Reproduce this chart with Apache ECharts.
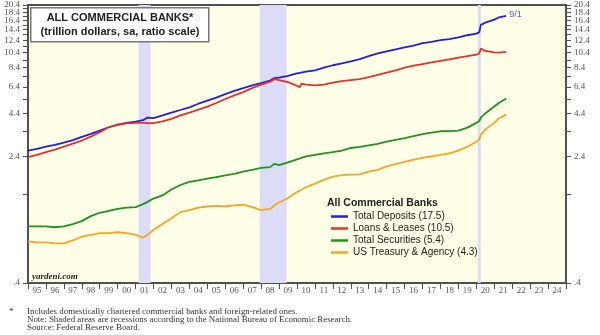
<!DOCTYPE html>
<html><head><meta charset="utf-8">
<script src="https://cdn.jsdelivr.net/npm/echarts@6/dist/echarts.min.js"></script>
<style>html,body{margin:0;padding:0;background:#fff}#c{width:600px;height:335px}</style>
</head><body><div id="c"></div>
<script>
// ---- data (trillion dollars) ----
const dates = ['1995-01','1995-07','1996-01','1996-07','1997-01','1997-07','1998-01','1998-07','1999-01','1999-07',
'2000-01','2000-07','2001-01','2001-06','2001-09','2002-01','2002-07','2003-01','2003-07','2004-01','2004-07',
'2005-01','2005-07','2006-01','2006-07','2007-01','2007-07','2008-01','2008-07','2008-10','2009-01','2009-07',
'2010-01','2010-03','2010-04','2010-07','2011-01','2011-07','2012-01','2012-07','2013-01','2013-07','2014-01','2014-07',
'2015-01','2015-07','2016-01','2016-07','2017-01','2017-07','2018-01','2018-07','2019-01','2019-07',
'2020-01','2020-03','2020-04','2020-07','2021-01','2021-04','2021-09'];
const totalDeposits = [2.60,2.67,2.75,2.82,2.91,3.02,3.16,3.30,3.45,3.62,
3.76,3.85,3.92,4.00,4.15,4.12,4.28,4.45,4.62,4.80,5.05,
5.28,5.50,5.78,6.05,6.30,6.55,6.75,7.00,7.25,7.30,7.48,
7.75,7.82,7.85,7.95,8.10,8.40,8.70,8.92,9.20,9.50,9.90,10.30,
10.60,10.90,11.20,11.50,11.90,12.10,12.40,12.60,12.90,13.30,
13.60,13.90,15.40,15.90,16.60,17.10,17.50];
const loansLeases = [2.37,2.45,2.55,2.64,2.75,2.87,3.00,3.17,3.38,3.62,
3.75,3.82,3.85,3.85,3.84,3.84,3.93,4.08,4.28,4.45,4.65,
4.85,5.10,5.40,5.68,5.95,6.30,6.62,6.90,7.15,7.05,6.85,
6.50,6.38,6.72,6.62,6.55,6.62,6.80,6.95,7.05,7.15,7.35,7.60,
7.85,8.10,8.40,8.65,8.85,9.05,9.25,9.45,9.70,9.90,
10.10,10.30,11.00,10.65,10.45,10.40,10.50];
const totalSecurities = [0.89,0.89,0.89,0.88,0.89,0.92,0.96,1.03,1.08,1.11,
1.14,1.16,1.17,1.22,1.26,1.32,1.38,1.50,1.60,1.67,1.71,
1.75,1.79,1.83,1.87,1.93,1.98,2.04,2.06,2.16,2.12,2.20,
2.30,2.33,2.36,2.40,2.45,2.50,2.55,2.60,2.70,2.74,2.80,2.86,
2.95,3.03,3.10,3.19,3.28,3.36,3.42,3.43,3.45,3.60,
3.85,3.95,4.15,4.40,4.85,5.10,5.43];
const treasuryAgency = [0.72,0.71,0.71,0.70,0.70,0.73,0.77,0.79,0.81,0.81,
0.82,0.81,0.79,0.76,0.79,0.85,0.92,1.00,1.09,1.12,1.16,
1.18,1.19,1.18,1.20,1.21,1.17,1.12,1.14,1.20,1.25,1.33,
1.45,1.48,1.50,1.55,1.63,1.72,1.80,1.84,1.85,1.86,1.93,1.98,
2.08,2.15,2.22,2.29,2.35,2.40,2.45,2.50,2.60,2.75,
2.95,3.05,3.25,3.50,3.85,4.10,4.33];
const seriesNames = ['Total Deposits (17.5)','Loans & Leases (10.5)','Total Securities (5.4)','US Treasury & Agency (4.3)'];
const recessions = [['2001-03','2001-11'],['2007-12','2009-06'],['2020-02','2020-04']];
const yearLabels = ['95','96','97','98','99','00','01','02','03','04','05','06','07','08','09','10','11','12','13','14','15','16','17','18','19','20','21','22','23','24'];
const yearTicks = [1995,1996,1997,1998,1999,2000,2001,2002,2003,2004,2005,2006,2007,2008,2009,2010,2011,2012,2013,2014,2015,2016,2017,2018,2019,2020,2021,2022,2023,2024,2025];
// y tick labels, split in groups so that crowded top labels are not dropped
const yLabelGroups = [[0.4,2.4,4.4,6.4,8.4,10.4,12.4,14.4,16.4],[18.4],[20.4]];
const yTickValues = [0.4,1.4,2.4,3.4,4.4,5.4,6.4,7.4,8.4,9.4,10.4,11.4,12.4,13.4,14.4,15.4,16.4,17.4,18.4,19.4,20.4];

// ---- helpers ----
function decYear(s){const p=s.split('-');return +p[0]+(+p[1]-1)/12;}
function pts(vals){return vals.map((v,i)=>[decYear(dates[i]),Math.log(v)]);}
const colors=['#1f1fe0','#e8302a','#1f931f','#f5a524'];
const serif="'Liberation Serif','Times New Roman',serif";
const sans="'Liberation Sans',Arial,sans-serif";
const yMin=Math.log(0.4)-1e-9, yMax=Math.log(20.4)+1e-9;
function yFmt(v){const x=Math.round(Math.exp(v)*10)/10;return x<1?'.'+Math.round(x*10):x.toFixed(1);}
function yAx(pos,labels,main){return {type:'value',position:pos,min:yMin,max:yMax,
  axisLine:{show:main,lineStyle:{color:'#505050',width:2}},
  axisTick:{show:main,length:5,customValues:yTickValues.map(Math.log),lineStyle:{color:'#505050',width:1}},
  axisLabel:{show:true,margin:8,customValues:labels.map(Math.log),formatter:yFmt,color:'#555',fontFamily:serif,fontSize:9,
    hideOverlap:false},
  splitLine:{show:false}};}
const yAxes=[];
['left','right'].forEach(pos=>yLabelGroups.forEach((g,i)=>yAxes.push(yAx(pos,g,i===0))));

const allData=[totalDeposits,loansLeases,totalSecurities,treasuryAgency];
const series=allData.map((d,i)=>({name:seriesNames[i],type:'line',data:pts(d),symbol:'none',smooth:false,
  lineStyle:{color:colors[i],width:1.8},itemStyle:{color:colors[i]},z:3}));
series[0].endLabel={show:true,formatter:'9/1',color:'#5a5ad0',fontSize:9,fontFamily:sans,distance:3,offset:[0,-1]};
series[0].markArea={silent:true,itemStyle:{color:'#dcdcf7',opacity:1},
  data:recessions.map(r=>[{xAxis:decYear(r[0])},{xAxis:decYear(r[1])}])};

const chart=echarts.init(document.getElementById('c'),null,{renderer:'canvas'});
chart.setOption({
  animation:false,
  backgroundColor:'#ffffff',
  grid:{left:28,right:34,top:5,bottom:52,show:true,backgroundColor:'#ffffe8',borderColor:'#505050',borderWidth:2},
  xAxis:{type:'value',min:1995,max:2025,
    axisLine:{show:true,onZero:false,lineStyle:{color:'#505050',width:2}},
    axisTick:{show:true,length:6,customValues:yearTicks,lineStyle:{color:'#505050',width:1}},
    axisLabel:{show:true,margin:3,customValues:yearTicks.slice(0,-1).map(y=>y+0.5),
      formatter:v=>yearLabels[Math.floor(v)-1995],color:'#555',fontFamily:serif,fontSize:9},
    splitLine:{show:false}},
  yAxis:yAxes,
  legend:{show:true,orient:'vertical',left:326,top:206,icon:'rect',itemWidth:17,itemHeight:2.5,itemGap:1,
    textStyle:{fontFamily:sans,fontSize:10,color:'#222',lineHeight:11},data:seriesNames},
  series:series,
  graphic:[
    {type:'rect',left:30,top:7,shape:{width:178,height:34},style:{fill:'#fff',stroke:'#777',lineWidth:1.5},z:10},
    {type:'text',x:120,y:18,style:{text:'ALL COMMERCIAL BANKS*',font:'bold 11px '+sans,fill:'#222',align:'center',verticalAlign:'middle'},z:11},
    {type:'text',x:120,y:32,style:{text:'(trillion dollars, sa, ratio scale)',font:'bold 11px '+sans,fill:'#222',align:'center',verticalAlign:'middle'},z:11},
    {type:'text',x:327,y:203,style:{text:'All Commercial Banks',font:'bold 10.5px '+sans,fill:'#222',verticalAlign:'middle'},z:11},
    {type:'text',x:32,y:277,style:{text:'yardeni.com',font:'italic bold 9px '+serif,fill:'#222',verticalAlign:'middle'},z:11},
    {type:'text',x:9,y:312,style:{text:'*',font:'9px '+serif,fill:'#333',verticalAlign:'middle'}},
    {type:'text',x:27,y:312,style:{text:'Includes domestically chartered commercial banks and foreign-related ones.',font:'8.9px '+serif,fill:'#333',verticalAlign:'middle'}},
    {type:'text',x:27,y:320,style:{text:'Note: Shaded areas are recessions according to the National Bureau of Economic Research.',font:'8.9px '+serif,fill:'#333',verticalAlign:'middle'}},
    {type:'text',x:27,y:328,style:{text:'Source: Federal Reserve Board.',font:'8.9px '+serif,fill:'#333',verticalAlign:'middle'}}
  ]
});
</script></body></html>
